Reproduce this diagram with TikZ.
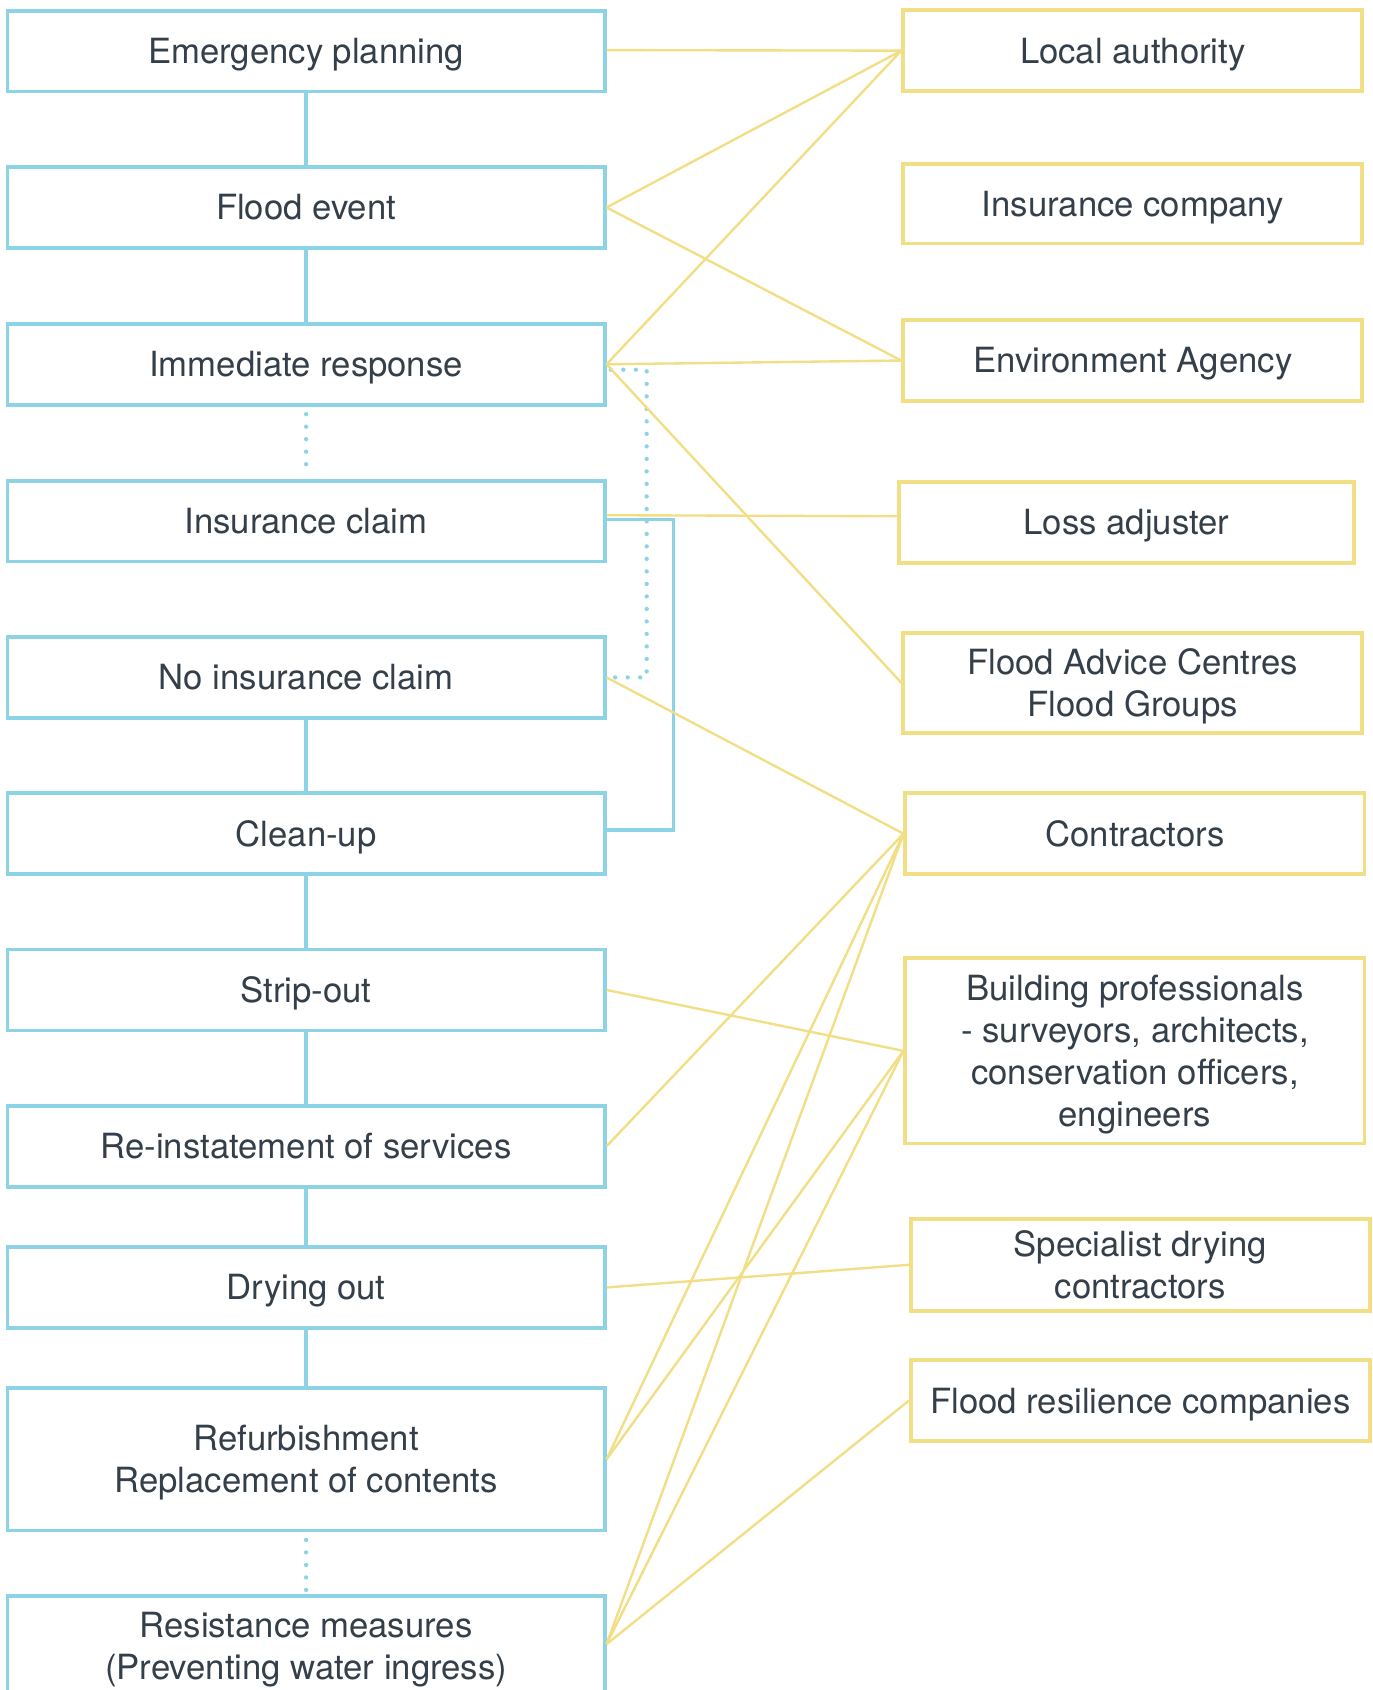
\documentclass[tikz,border=0pt]{standalone}
\usepackage{fontspec}
\setmainfont{TeX Gyre Heros}
\definecolor{bl}{HTML}{8DD3E6}
\definecolor{yl}{HTML}{F2DE85}
\definecolor{tx}{HTML}{343F4A}
\begin{document}
\begin{tikzpicture}[x=1pt,y=-1pt,
 every node/.style={font=\fontsize{32.2}{39}\selectfont, text=tx, align=center, inner sep=0pt, text height=23pt, text depth=0pt},
 two/.style={text height=62pt},
 four/.style={text height=140pt},
 lbox/.style={draw=bl, line width=3.5pt, minimum width=554pt, minimum height=75pt},
 rbox/.style={draw=yl, line width=3.5pt, minimum width=426pt, minimum height=75pt},
 bline/.style={draw=bl, line width=3pt},
 dline/.style={draw=bl, line width=4pt, line cap=round, dash pattern=on 0pt off 11.6pt},
 yline/.style={draw=yl, line width=2.2pt}]
\useasboundingbox (0,0) rectangle (1273,1568);
\clip (0,0) rectangle (1273,1568);
\fill[white] (0,0) rectangle (1273,1568);

% left column
\node[lbox] (EP) at (284,47.5) {Emergency planning};
\node[lbox] (FE) at (284,192.5) {Flood event};
\node[lbox] (IR) at (284,338) {Immediate response};
\node[lbox] (IC) at (284,483.5) {Insurance claim};
\node[lbox] (NIC) at (284,628.5) {No insurance claim};
\node[lbox] (CU) at (284,773.5) {Clean-up};
\node[lbox] (SO) at (284,918.5) {Strip-out};
\node[lbox] (RS) at (284,1063.5) {Re-instatement of services};
\node[lbox] (DO) at (284,1194.5) {Drying out};
\node[lbox, minimum height=132pt, two] (RF) at (284,1354) {Refurbishment\\Replacement of contents};
\node[lbox, minimum height=93pt, two] (RM) at (284,1527.5) {Resistance measures\\(Preventing water ingress)};

% right column
\node[rbox] (LA) at (1051,47) {Local authority};
\node[rbox, minimum height=74pt] (INS) at (1051,189) {Insurance company};
\node[rbox] (EA) at (1051,334.5) {Environment Agency};
\node[rbox, minimum width=422pt] (LAD) at (1045,484.5) {Loss adjuster};
\node[rbox, minimum height=93pt, two] (FAC) at (1051,633.5) {Flood Advice Centres\\Flood Groups};
\node[rbox] (CON) at (1053,773.5) {Contractors};
\node[rbox, minimum height=172pt, four] (BP) at (1053,975) {Building professionals\\- surveyors, architects,\\conservation officers,\\engineers};
\node[rbox, minimum height=85pt, two] (SDC) at (1058,1173.5) {Specialist drying\\contractors};
\node[rbox] (FRC) at (1058,1299.5) {Flood resilience companies};

% blue solid verticals
\draw[bline] (EP.south) -- (FE.north);
\draw[bline] (FE.south) -- (IR.north);
\draw[bline] (NIC.south) -- (CU.north);
\draw[bline] (CU.south) -- (SO.north);
\draw[bline] (SO.south) -- (RS.north);
\draw[bline] (RS.south) -- (DO.north);
\draw[bline] (DO.south) -- (RF.north);
% blue dotted verticals
\draw[dline] ([yshift=-7pt]IR.south) -- ([yshift=3pt]IC.north);
\draw[dline] ([yshift=-7pt]RF.south) -- ([yshift=3pt]RM.north);

% brackets
\coordinate (dx) at (600,0);
\coordinate (sx) at (625,0);
\draw[dline] ([yshift=-5pt,xshift=4pt]IR.east) -- ([yshift=-5pt]IR.east -| dx) |- ([xshift=4pt]NIC.east);
\draw[bline] ([yshift=1.5pt]IC.east) -- ([yshift=1.5pt]IC.east -| sx) |- ([yshift=3.5pt]CU.east);

% yellow connectors
\draw[yline] ([yshift=1pt]EP.east) -- (LA.west);
\draw[yline] (FE.east) -- (LA.west);
\draw[yline] (FE.east) -- (EA.west);
\draw[yline] (IR.east) -- (LA.west);
\draw[yline] (IR.east) -- (EA.west);
\draw[yline] (IR.east) -- (FAC.west);
\draw[yline] ([yshift=5.5pt]IC.east) -- ([yshift=5.5pt]LAD.west);
\draw[yline] (NIC.east) -- (CON.west);
\draw[yline] (SO.east) -- (BP.west);
\draw[yline] (RS.east) -- (CON.west);
\draw[yline] (DO.east) -- (SDC.west);
\draw[yline] (RF.east) -- (CON.west);
\draw[yline] (RF.east) -- (BP.west);
\draw[yline] ([yshift=2pt]RM.east) -- (CON.west);
\draw[yline] ([yshift=2pt]RM.east) -- (BP.west);
\draw[yline] ([yshift=2pt]RM.east) -- (FRC.west);
\end{tikzpicture}
\end{document}
